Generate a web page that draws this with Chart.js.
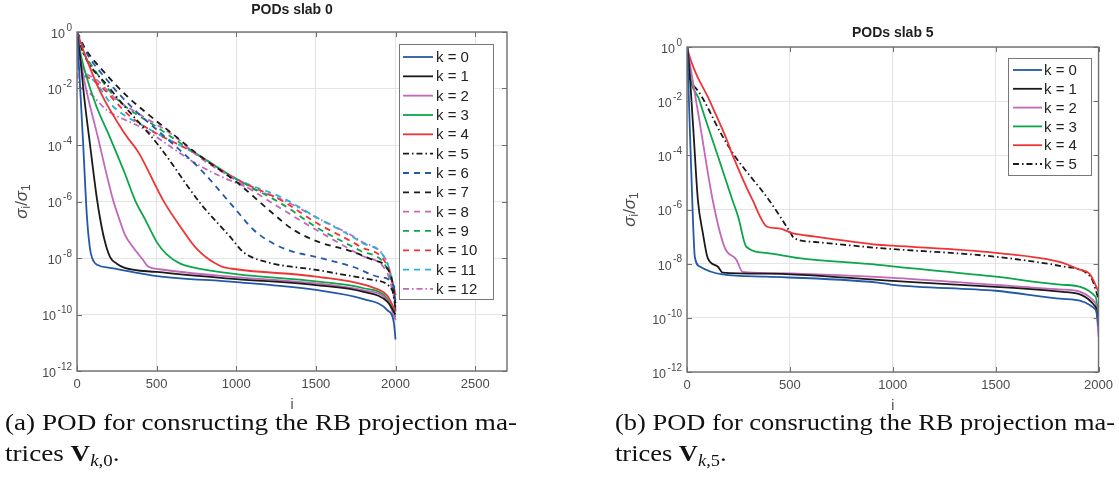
<!DOCTYPE html>
<html>
<head>
<meta charset="utf-8">
<script src="https://cdn.jsdelivr.net/npm/chart.js@4.4.1/dist/chart.umd.min.js"></script>
<style>
html, body { margin: 0; padding: 0; background: #fff; }
body { width: 1119px; height: 478px; position: relative; overflow: hidden; }
.box { position: absolute; top: 0; height: 418px; }
#left { left: 0; width: 530px; }
#right { left: 580px; width: 539px; }
.cap { position: absolute; font-family: "Liberation Serif", "DejaVu Serif", serif; font-size: 23px; color: #111;
       white-space: nowrap; transform-origin: 0 0; line-height: 31px; }
.sub { font-size: 16px; position: relative; top: 5px; }
</style>
</head>
<body>
<div class="box" id="left"><canvas id="c0"></canvas></div>
<div class="box" id="right"><canvas id="c5"></canvas></div>
<div class="cap" id="capA" style="left:5px; top:407px"><span class="l1">(a) POD for consructing the RB projection ma-</span><br>trices <b>V</b><span class="sub"><i>k</i>,0</span>.</div>
<div class="cap" id="capB" style="left:615px; top:407px"><span class="l1">(b) POD for consructing the RB projection ma-</span><br>trices <b>V</b><span class="sub"><i>k</i>,5</span>.</div>

<script>
// tick values
const xTicks0 = [0, 500, 1000, 1500, 2000, 2500];
const xTicks5 = [0, 500, 1000, 1500, 2000];
const yTicks = [1e-12, 1e-10, 1e-8, 1e-6, 1e-4, 1e-2, 1];

const labels0 = ['k = 0', 'k = 1', 'k = 2', 'k = 3', 'k = 4', 'k = 5', 'k = 6',
                 'k = 7', 'k = 8', 'k = 9', 'k = 10', 'k = 11', 'k = 12'];
const labels5 = ['k = 0', 'k = 1', 'k = 2', 'k = 3', 'k = 4', 'k = 5'];

// slab 0 : [i, sigma_i/sigma_1]
const s0k0 = [[1,1],[20,1e-2],[39,1e-4],[63,2.5e-7],[80,2.5e-8],[95,1e-8],[130,5.6e-9],[207,4.5e-9],[503,2.3e-9],[1000,1.4e-9],[1500,7.4e-10],[1800,3.5e-10],[1950,1.4e-10],[1990,5e-11],[2000,1.3e-11]];
const s0k1 = [[1,1],[20,0.126],[45,5e-3],[82,1e-4],[125,1.26e-6],[145,2.5e-7],[170,5e-8],[207,1.1e-8],[250,6.3e-9],[300,4.5e-9],[500,3.2e-9],[1000,1.8e-9],[1500,1.1e-9],[1800,6.3e-10],[1950,2.8e-10],[2000,1e-10]];
const s0k2 = [[1,1],[31,5.4e-2],[132,1.8e-4],[227,1.1e-6],[258,3.2e-7],[302,6.5e-8],[350,2.5e-8],[415,8.5e-9],[447,5e-9],[520,4e-9],[1000,2.1e-9],[1500,1.26e-9],[1800,7.1e-10],[1950,3.2e-10],[2000,6.3e-11]];
const s0k3 = [[1,1],[20,0.2],[50,4e-2],[120,2.5e-3],[208,1.8e-4],[300,1e-5],[365,1.1e-6],[430,2.2e-7],[503,3.5e-8],[560,1.4e-8],[648,6.3e-9],[720,4.8e-9],[1000,2.7e-9],[1500,1.5e-9],[1800,8.5e-10],[1950,3.5e-10],[2000,8e-11]];
const s0k4 = [[1,1],[50,0.158],[145,7.9e-3],[300,2.5e-4],[385,5.6e-5],[541,1.1e-6],[650,1.26e-7],[755,2e-8],[900,5.2e-9],[1000,4e-9],[1500,2.2e-9],[1860,8.9e-10],[1950,4.5e-10],[2000,1.26e-10]];
const s0k5 = [[1,1],[20,0.355],[207,1e-2],[510,1e-4],[780,7.9e-7],[962,5.6e-8],[1045,1.6e-8],[1194,7.1e-9],[1500,3.8e-9],[1860,1.66e-9],[1980,7.1e-10],[2000,1.6e-10]];
const s0k6 = [[1,1],[50,0.23],[195,1.8e-2],[350,2e-3],[500,3.5e-4],[660,5.6e-5],[774,1.4e-5],[981,6.6e-7],[1108,1e-7],[1235,3.2e-8],[1340,1.8e-8],[1528,1e-8],[1736,4.8e-9],[1906,2.1e-9],[1990,1e-9],[2000,1.26e-10]];
const s0k7 = [[1,1],[50,0.27],[176,3.5e-2],[314,5.4e-3],[459,1.07e-3],[616,2.1e-4],[774,4e-5],[1000,5e-6],[1214,4.5e-7],[1359,1e-7],[1528,3.5e-8],[1700,1.9e-8],[1850,8.9e-9],[1970,2.5e-9],[2000,2.5e-10]];
const s0k8 = [[1,1],[5,0.25],[100,2.5e-2],[250,4e-3],[409,1.07e-3],[604,2.2e-4],[774,3.5e-5],[1000,5.6e-6],[1296,5e-7],[1500,1e-7],[1780,1.26e-8],[1950,2.8e-9],[2000,2.5e-10]];
const s0k9 = [[1,1],[5,0.4],[20,0.25],[239,5e-3],[510,4e-4],[774,4e-5],[1000,6.3e-6],[1296,7.6e-7],[1500,1.26e-7],[1780,1.8e-8],[1950,4e-9],[2000,3.2e-10]];
const s0k10 = [[1,1],[5,0.25],[100,2e-2],[346,9.1e-4],[774,4e-5],[1000,6.3e-6],[1296,1e-6],[1500,1.8e-7],[1780,2.5e-8],[1950,5e-9],[2000,5e-10]];
const s0k11 = [[1,1],[5,6.3e-2],[69,2.5e-2],[239,2e-3],[440,4e-4],[774,4e-5],[1000,6.3e-6],[1296,1.3e-6],[1500,2.8e-7],[1780,3.7e-8],[1950,6.3e-9],[2000,5e-10]];
const s0k12 = [[1,1],[5,2e-2],[31,1e-2],[195,1.6e-3],[409,4e-4],[774,1.8e-5],[1000,4.5e-6],[1296,1.1e-6],[1500,2.8e-7],[1780,4e-8],[1950,6.3e-9],[2000,5e-10]];

// slab 5
const s5k0 = [[1,1],[15,5e-4],[29,4e-7],[38,1.8e-8],[62,7.9e-9],[173,4e-9],[385,3.3e-9],[928,2e-9],[1000,1.66e-9],[1500,1e-9],[1827,5e-10],[1986,2e-10],[2000,5e-11]];
const s5k1 = [[1,1],[5,0.63],[30,1.1e-3],[53,2.2e-6],[77,1.35e-7],[101,1.6e-8],[149,7.9e-9],[173,4.7e-9],[385,4.3e-9],[1000,2.3e-9],[1500,1.4e-9],[1827,9.1e-10],[1986,2.5e-10],[2000,6.3e-11]];
const s5k2 = [[1,1],[5,0.63],[60,2e-3],[125,2.2e-6],[183,4e-8],[240,1.4e-8],[270,5e-9],[400,4.5e-9],[1000,3e-9],[1500,1.66e-9],[1827,1.1e-9],[1986,3.5e-10],[2000,2e-11]];
const s5k3 = [[1,1],[5,0.33],[62,1e-2],[149,1e-4],[221,2.2e-6],[250,5e-7],[288,4.2e-8],[385,2.5e-8],[543,1.6e-8],[928,9.1e-9],[1000,7.9e-9],[1500,3.3e-9],[1827,1.66e-9],[1986,6e-10],[2000,1e-10]];
const s5k4 = [[1,1],[5,0.7],[111,1e-2],[192,4e-4],[222,1e-4],[319,2.2e-6],[390,2.3e-7],[447,2e-7],[511,1.35e-7],[623,1e-7],[928,5e-8],[1000,4.6e-8],[1500,2.5e-8],[1827,1.07e-8],[1900,6.3e-9],[1960,3.9e-9],[2000,9.1e-10]];
const s5k5 = [[1,1],[5,0.14],[38,3.3e-2],[173,5e-4],[230,1e-4],[399,2.2e-6],[504,1.35e-7],[519,8.9e-8],[623,6.3e-8],[928,3.8e-8],[1500,1.8e-8],[1827,7.9e-9],[1962,3.2e-9],[2000,5e-10]];

const series0 = [s0k0, s0k1, s0k2, s0k3, s0k4, s0k5, s0k6, s0k7, s0k8, s0k9, s0k10, s0k11, s0k12];
const series5 = [s5k0, s5k1, s5k2, s5k3, s5k4, s5k5];

// line styles per k
const BLUE = '#2458a8', BLACK = '#1a1a1a', MAG = '#c466b9', GREEN = '#0aa64a', RED = '#ee3434', CYAN = '#22b5d5';
const DASH = [6, 5], DASHDOT = [6, 3, 1.5, 3];
const styles = [
    [BLUE, []], [BLACK, []], [MAG, []], [GREEN, []], [RED, []], [BLACK, DASHDOT],
    [BLUE, DASH], [BLACK, DASH], [MAG, DASH], [GREEN, DASH], [RED, DASH], [CYAN, DASH], [MAG, DASHDOT]
];

const FONT = '"Liberation Sans", Arial, Helvetica, sans-serif';

function buildSets(series, labels) {
    return series.map(function (pts, k) {
        return {
            label: labels[k],
            data: pts.map(p => ({ x: p[0], y: p[1] })),
            borderColor: styles[k][0],
            borderDash: styles[k][1],
            borderWidth: 1.8,
            pointRadius: 0,
            fill: false,
            cubicInterpolationMode: 'monotone'
        };
    });
}

// matlab-like decorations: box, inward ticks, 10^n labels, titles, legend
const matlabPlugin = {
    id: 'matlab',
    afterDraw(chart, args, o) {
        const ctx = chart.ctx, a = chart.chartArea;
        const xs = chart.scales.x, ys = chart.scales.y;
        ctx.save();
        // box
        ctx.strokeStyle = '#6e6e6e';
        ctx.lineWidth = 1.4;
        ctx.strokeRect(a.left, a.top, a.right - a.left, a.bottom - a.top);
        // inward ticks
        ctx.lineWidth = 1;
        ctx.beginPath();
        o.xTicks.forEach(v => {
            const px = Math.round(xs.getPixelForValue(v)) + 0.5;
            ctx.moveTo(px, a.bottom); ctx.lineTo(px, a.bottom - 5);
            ctx.moveTo(px, a.top); ctx.lineTo(px, a.top + 5);
        });
        yTicks.forEach(v => {
            const py = Math.round(ys.getPixelForValue(v)) + 0.5;
            ctx.moveTo(a.left, py); ctx.lineTo(a.left + 5, py);
            ctx.moveTo(a.right, py); ctx.lineTo(a.right - 5, py);
        });
        ctx.stroke();
        // y tick labels 10^n
        ctx.fillStyle = '#4a4a4a';
        ctx.textBaseline = 'middle';
        ctx.textAlign = 'left';
        yTicks.forEach(v => {
            const py = ys.getPixelForValue(v);
            const exp = String(Math.round(Math.log10(v)));
            ctx.font = '10px ' + FONT;
            const ew = ctx.measureText(exp).width;
            ctx.font = '12.5px ' + FONT;
            const bw = ctx.measureText('10').width;
            const right = a.left - 5;
            ctx.fillText('10', right - ew - bw - 1.5, py + 2.5);
            ctx.font = '10px ' + FONT;
            ctx.fillText(exp, right - ew, py - 4);
        });
        // x label
        ctx.fillStyle = '#4a4a4a';
        ctx.textAlign = 'center';
        ctx.font = '14px ' + FONT;
        ctx.fillText('i', (a.left + a.right) / 2, a.bottom + 34);
        // y label  sigma_i / sigma_1
        ctx.save();
        ctx.translate(a.left - o.ylabOff, (a.top + a.bottom) / 2);
        ctx.rotate(-Math.PI / 2);
        const parts = [['σ', 'italic 17px ' + FONT, 0], ['i', '12px ' + FONT, 5], ['/', '17px ' + FONT, 0],
                       ['σ', 'italic 17px ' + FONT, 0], ['1', '12px ' + FONT, 5]];
        let w = 0;
        parts.forEach(p => { ctx.font = p[1]; w += ctx.measureText(p[0]).width; });
        let cx = -w / 2;
        ctx.textAlign = 'left';
        parts.forEach(p => {
            ctx.font = p[1];
            ctx.fillText(p[0], cx, p[2]);
            cx += ctx.measureText(p[0]).width;
        });
        ctx.restore();
        // title
        ctx.fillStyle = '#1f1f1f';
        ctx.textAlign = 'center';
        ctx.font = 'bold 14px ' + FONT;
        ctx.fillText(o.title, (a.left + a.right) / 2, o.titleY);
        // legend
        const L = o.legend;
        ctx.fillStyle = '#fff';
        ctx.fillRect(L.x, L.y, L.w, L.h);
        ctx.strokeStyle = '#777';
        ctx.lineWidth = 1;
        ctx.strokeRect(L.x + 0.5, L.y + 0.5, L.w, L.h);
        ctx.font = '15px ' + FONT;
        ctx.textAlign = 'left';
        chart.data.datasets.forEach((ds, k) => {
            const yy = L.first + k * L.step;
            ctx.strokeStyle = ds.borderColor;
            ctx.lineWidth = ds.borderWidth;
            ctx.setLineDash(ds.borderDash);
            ctx.beginPath();
            ctx.moveTo(L.l0, yy); ctx.lineTo(L.l1, yy);
            ctx.stroke();
            ctx.setLineDash([]);
            ctx.fillStyle = '#222';
            ctx.fillText(ds.label, L.tx, yy + 1);
        });
        ctx.restore();
    }
};

function makeChart(id, sets, o) {
    return new Chart(document.getElementById(id), {
        type: 'line',
        data: { datasets: sets },
        options: {
            responsive: true,
            maintainAspectRatio: false,
            animation: false,
            layout: { padding: { top: o.top, right: o.right, left: 0, bottom: 0 } },
            plugins: { legend: { display: false }, tooltip: { enabled: false }, matlab: o },
            scales: {
                x: {
                    type: 'linear', min: 0, max: o.xmax,
                    afterBuildTicks: s => { s.ticks = o.xTicks.map(v => ({ value: v })); },
                    afterFit: s => { s.height = o.xh; },
                    ticks: { font: { family: FONT, size: 13 }, color: '#4a4a4a', padding: 6, maxRotation: 0, autoSkip: false,
                             callback: v => String(v) },
                    grid: { color: '#e4e4e4', drawTicks: false },
                    border: { display: false }
                },
                y: {
                    type: 'logarithmic', min: 1e-12, max: 1,
                    afterBuildTicks: s => { s.ticks = yTicks.map(v => ({ value: v })); },
                    afterFit: s => { s.width = o.yw; },
                    ticks: { callback: () => '' },
                    grid: { color: '#e4e4e4', drawTicks: false },
                    border: { display: false }
                }
            }
        },
        plugins: [matlabPlugin]
    });
}

makeChart('c0', buildSets(series0, labels0), {
    top: 32, right: 23, yw: 77, xh: 47, xmax: 2700, xTicks: xTicks0,
    title: 'PODs slab 0', titleY: 10, ylabOff: 55,
    legend: { x: 399, y: 44, w: 94, h: 255, first: 57, step: 19.33, l0: 403, l1: 433, tx: 436 }
});

makeChart('c5', buildSets(series5, labels5), {
    top: 47, right: 16, yw: 107, xh: 46, xmax: 2000, xTicks: xTicks5,
    title: 'PODs slab 5', titleY: 33, ylabOff: 57,
    legend: { x: 428, y: 58, w: 83, h: 117, first: 70, step: 18.8, l0: 433, l1: 462, tx: 464 }
});

// stretch caption lines to the width of the subfigure
function fitCap(id, target) {
    const el = document.getElementById(id);
    const w = el.querySelector('.l1').getBoundingClientRect().width;
    el.style.transform = 'scaleX(' + (target / w) + ')';
}
fitCap('capA', 512);
fitCap('capB', 500);
</script>
</body>
</html>
